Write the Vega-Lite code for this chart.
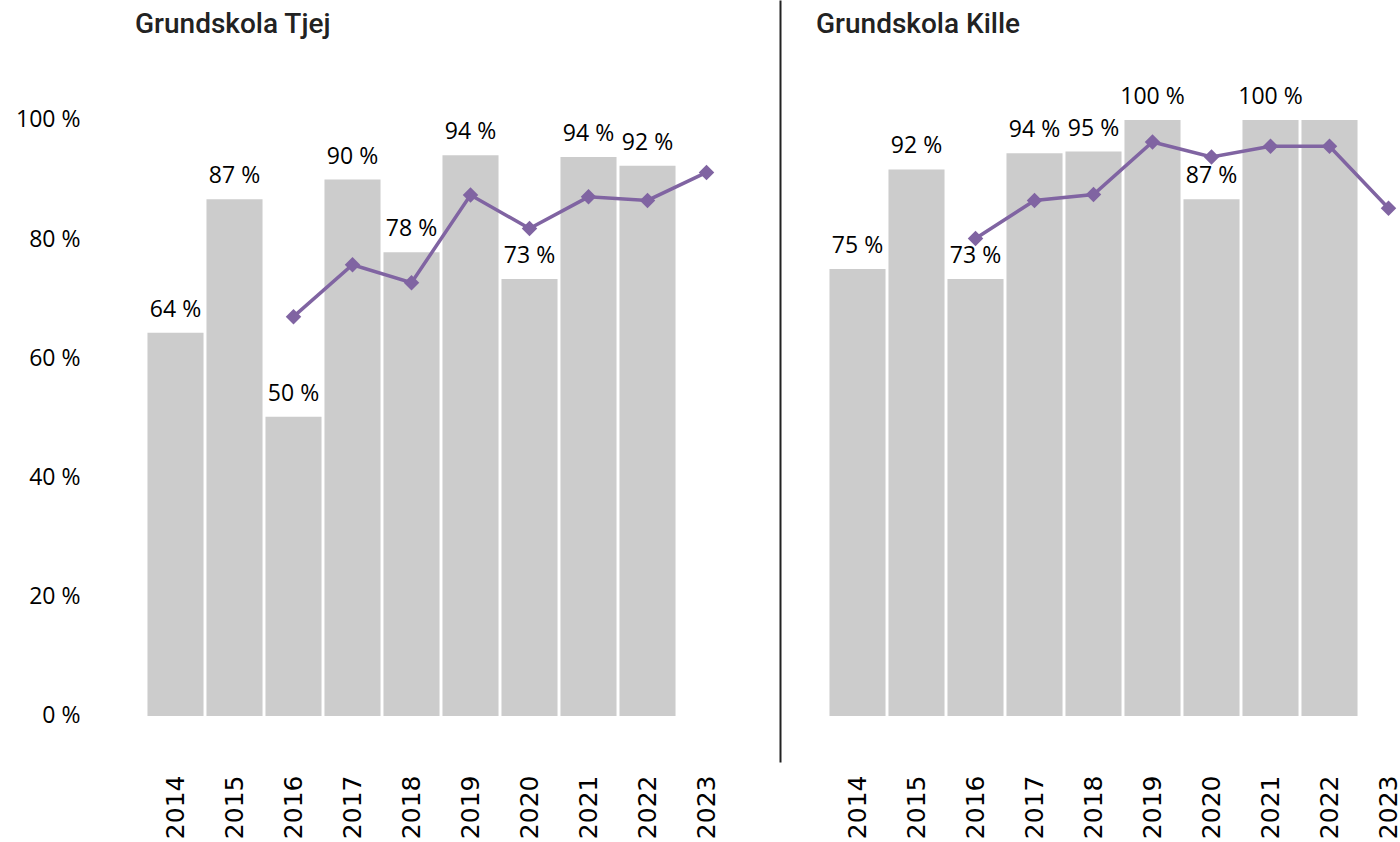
{
  "$schema": "https://vega.github.io/schema/vega-lite/v6.json",
  "padding": {"left": 15, "top": 0, "right": 0, "bottom": 0},
  "background": "white",
  "data": {"values": [
    {"panel": "Tjej", "year": "2014", "value": 64.3, "label": "64 %", "trend": null},
    {"panel": "Tjej", "year": "2015", "value": 86.7, "label": "87 %", "trend": null},
    {"panel": "Tjej", "year": "2016", "value": 50.2, "label": "50 %", "trend": 67.0},
    {"panel": "Tjej", "year": "2017", "value": 90.0, "label": "90 %", "trend": 75.7},
    {"panel": "Tjej", "year": "2018", "value": 77.8, "label": "78 %", "trend": 72.7},
    {"panel": "Tjej", "year": "2019", "value": 94.1, "label": "94 %", "trend": 87.4},
    {"panel": "Tjej", "year": "2020", "value": 73.3, "label": "73 %", "trend": 81.8},
    {"panel": "Tjej", "year": "2021", "value": 93.8, "label": "94 %", "trend": 87.1},
    {"panel": "Tjej", "year": "2022", "value": 92.3, "label": "92 %", "trend": 86.5},
    {"panel": "Tjej", "year": "2023", "value": null, "label": null, "trend": 91.2},
    {"panel": "Kille", "year": "2014", "value": 75.0, "label": "75 %", "trend": null},
    {"panel": "Kille", "year": "2015", "value": 91.7, "label": "92 %", "trend": null},
    {"panel": "Kille", "year": "2016", "value": 73.3, "label": "73 %", "trend": 80.1},
    {"panel": "Kille", "year": "2017", "value": 94.4, "label": "94 %", "trend": 86.5},
    {"panel": "Kille", "year": "2018", "value": 94.7, "label": "95 %", "trend": 87.5},
    {"panel": "Kille", "year": "2019", "value": 100.0, "label": "100 %", "trend": 96.3},
    {"panel": "Kille", "year": "2020", "value": 86.7, "label": "87 %", "trend": 93.8},
    {"panel": "Kille", "year": "2021", "value": 100.0, "label": "100 %", "trend": 95.6},
    {"panel": "Kille", "year": "2022", "value": 100.0, "label": null, "trend": 95.6},
    {"panel": "Kille", "year": "2023", "value": null, "label": null, "trend": 85.2}
  ]},
  "spacing": 44,
  "hconcat": [
    {
      "width": 590, "height": 762,
      "transform": [{"filter": "datum.panel === 'Tjej'"}],
      "title": {"text": "Grundskola Tjej", "anchor": "start", "frame": "group", "offset": -39, "dx": -11, "font": "Roboto", "fontSize": 28, "fontWeight": 500, "color": "#222222"},
      "encoding": {
        "x": {"field": "year", "type": "ordinal", "scale": {"paddingInner": 0.05, "paddingOuter": 0.025},
          "axis": {"title": null, "labelAngle": -90, "labelFontSize": 25, "labelFont": "DejaVu Sans", "labelColor": "#000000", "labelPadding": 13, "ticks": false, "domain": false}}
      },
      "layer": [
        {"mark": {"type": "bar", "color": "#cccccc"},
         "encoding": {
           "y": {"field": "value", "type": "quantitative", "scale": {"domain": [-7.72, 120.13], "nice": false, "zero": false},
             "axis": {"title": null, "values": [0, 20, 40, 60, 80, 100], "labelExpr": "datum.value + ' %'", "labelFontSize": 23, "labelFont": "Open Sans", "labelColor": "#000000", "labelPadding": 66, "ticks": false, "domain": false, "grid": false}},
           "y2": {"datum": 0}}},
        {"transform": [{"filter": "datum.label != null"}],
         "mark": {"type": "text", "dy": -23, "baseline": "middle", "fontSize": 23, "font": "Open Sans", "color": "#000000"},
         "encoding": {"y": {"field": "value", "type": "quantitative"}, "text": {"field": "label"}}},
        {"mark": {"type": "line", "color": "#8064a2", "strokeWidth": 3.5},
         "encoding": {"y": {"field": "trend", "type": "quantitative"}}},
        {"mark": {"type": "point", "shape": "diamond", "filled": true, "opacity": 1, "size": 240, "color": "#8064a2"},
         "encoding": {"y": {"field": "trend", "type": "quantitative"}}}
      ]
    },
    {
      "width": 590, "height": 762,
      "transform": [{"filter": "datum.panel === 'Kille'"}],
      "title": {"text": "Grundskola Kille", "anchor": "start", "frame": "group", "offset": -39, "dx": -12, "font": "Roboto", "fontSize": 28, "fontWeight": 500, "color": "#222222"},
      "encoding": {
        "x": {"field": "year", "type": "ordinal", "scale": {"paddingInner": 0.05, "paddingOuter": 0.025},
          "axis": {"title": null, "labelAngle": -90, "labelFontSize": 25, "labelFont": "DejaVu Sans", "labelColor": "#000000", "labelPadding": 13, "ticks": false, "domain": false}}
      },
      "layer": [
        {"mark": {"type": "bar", "color": "#cccccc"},
         "encoding": {
           "y": {"field": "value", "type": "quantitative", "scale": {"domain": [-7.72, 120.13], "nice": false, "zero": false},
             "axis": {"title": null, "labels": false, "ticks": false, "domain": true, "domainColor": "#222222", "domainWidth": 2, "offset": 48, "grid": false}},
           "y2": {"datum": 0}}},
        {"transform": [{"filter": "datum.label != null"}],
         "mark": {"type": "text", "dy": -23, "baseline": "middle", "fontSize": 23, "font": "Open Sans", "color": "#000000"},
         "encoding": {"y": {"field": "value", "type": "quantitative"}, "text": {"field": "label"}}},
        {"mark": {"type": "line", "color": "#8064a2", "strokeWidth": 3.5},
         "encoding": {"y": {"field": "trend", "type": "quantitative"}}},
        {"mark": {"type": "point", "shape": "diamond", "filled": true, "opacity": 1, "size": 240, "color": "#8064a2"},
         "encoding": {"y": {"field": "trend", "type": "quantitative"}}}
      ]
    }
  ],
  "config": {"view": {"stroke": null}, "font": "Open Sans"}
}
